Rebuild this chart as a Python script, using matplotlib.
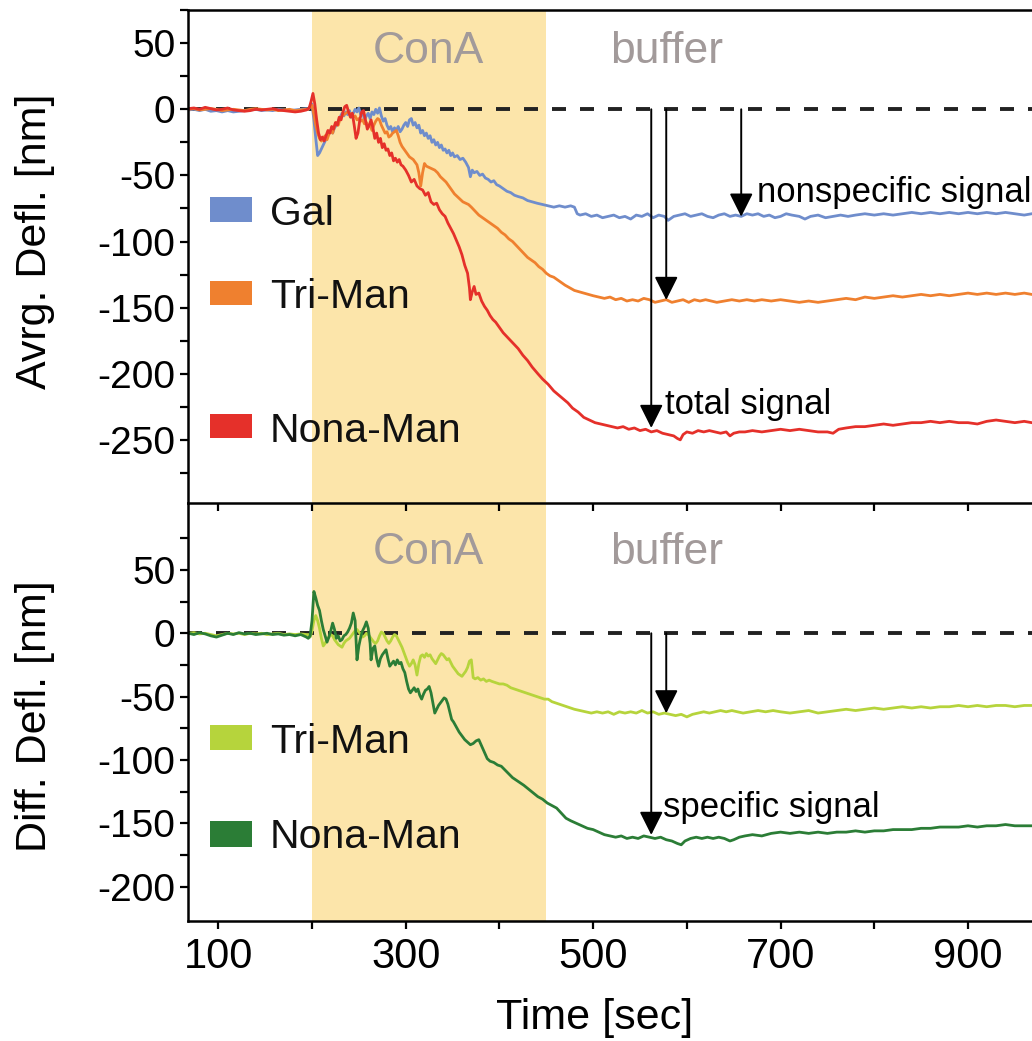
"""
Two-panel deflection traces: averaged deflection (top) and differential
deflection (bottom) during ConA injection and buffer rinse.
"""

import numpy as np
import matplotlib
matplotlib.use("Agg")
import matplotlib.pyplot as plt
from matplotlib.patches import Rectangle

plt.rcParams["font.family"] = ["Liberation Sans", "DejaVu Sans"]
plt.rcParams["axes.unicode_minus"] = False

# ── data (time [s], deflection [nm]) ───────────────────────────────────────
CONA_START, CONA_END = 200, 450

GAL = [(68, -0.5), (74, 0), (80, -1), (86, 0), (92, -1.5), (98, -1), (104, -2), (110, -1),
       (116, -2), (122, -1.5), (128, -1), (134, -0.5), (140, 0), (146, -1), (152, -0.5),
       (158, -1), (164, 0), (170, -0.5), (176, -1), (182, -0.5), (188, 0), (194, 0.5),
       (196, 0), (198, 2), (200, 4), (202, -8), (204, -22), (206, -35), (208, -33), (210, -30),
       (212, -27), (214, -24), (216, -20), (218, -17), (220, -16), (222, -18), (224, -14),
       (226, -12), (228, -9), (230, -6), (232, -3), (234, -5), (236, -2), (238, -4), (240, -1),
       (242, -6), (244, -3), (246, 0), (248, -2), (250, 1), (252, -4), (254, -2), (256, -8),
       (258, -5), (260, -3), (262, -7), (264, -2), (266, -4), (268, 0), (270, -3), (272, 1),
       (274, -5), (276, -9), (278, -7), (280, -12), (282, -15), (284, -13), (286, -17),
       (288, -14), (290, -16), (292, -13), (294, -17), (296, -15), (298, -12), (300, -10),
       (302, -13), (304, -8), (306, -7), (308, -12), (310, -10), (312, -14), (314, -12),
       (316, -18), (318, -16), (320, -20), (322, -18), (324, -22), (326, -20), (328, -25),
       (330, -23), (332, -27), (334, -25), (336, -29), (338, -27), (340, -31), (342, -30),
       (344, -33), (346, -31), (348, -35), (350, -33), (352, -36), (355, -35), (358, -38),
       (361, -37), (364, -40), (367, -44), (369, -51), (371, -46), (373, -48), (376, -47),
       (379, -50), (382, -49), (385, -52), (388, -53), (391, -55), (394, -54), (397, -57),
       (400, -58), (404, -60), (408, -62), (412, -63), (416, -65), (420, -66), (425, -67),
       (430, -69), (435, -70), (440, -71), (446, -72), (452, -73), (458, -74), (464, -73),
       (470, -74), (476, -73), (480, -74), (483, -79), (486, -80), (492, -79), (498, -81),
       (504, -80), (510, -82), (516, -81), (522, -80), (528, -82), (534, -81), (540, -83),
       (546, -80), (552, -81), (558, -79), (564, -82), (570, -80), (576, -81), (580, -84),
       (586, -81), (592, -80), (598, -79), (604, -81), (610, -80), (616, -79), (622, -81),
       (628, -82), (634, -80), (640, -79), (646, -81), (652, -80), (658, -81), (664, -79),
       (670, -80), (676, -79), (682, -81), (688, -80), (694, -82), (700, -81), (706, -79),
       (712, -80), (720, -81), (726, -83), (732, -81), (740, -80), (748, -82), (756, -81),
       (764, -80), (772, -81), (780, -80), (790, -79), (800, -80), (810, -79), (820, -80),
       (830, -79), (840, -78), (850, -79), (860, -78), (870, -79), (880, -78), (890, -79),
       (900, -78), (910, -79), (920, -78), (930, -79), (940, -78), (950, -79), (960, -80),
       (968, -79)]

TRI = [(68, 0), (74, 0.5), (80, -0.5), (86, 0), (92, 0.5), (98, 0), (104, -1), (110, -0.5),
       (116, 0), (122, -0.5), (128, -1), (134, 0), (140, 0.5), (146, 0), (152, -0.5), (158, 0),
       (164, -1), (170, -0.5), (176, 0), (182, -1), (188, -0.5), (194, 0),
       (196, 0), (198, 2), (200, 3), (202, -4), (204, -12), (206, -18), (208, -22), (210, -24),
       (212, -22), (214, -20), (216, -23), (218, -19), (220, -16), (222, -18), (224, -13),
       (226, -10), (228, -12), (230, -7), (232, -5), (234, -4), (236, -3), (238, -2), (240, -3),
       (242, -4), (244, -6), (246, -5), (248, -8), (250, -7), (252, -9), (254, -8), (256, -11),
       (258, -10), (260, -13), (262, -12), (264, -16), (266, -12), (268, -9), (270, -7),
       (272, -8), (274, -12), (276, -15), (278, -18), (280, -17), (282, -21), (284, -20),
       (286, -18), (288, -17), (290, -16), (292, -20), (294, -25), (296, -28), (298, -30),
       (300, -32), (302, -34), (304, -36), (306, -37), (308, -38), (310, -40), (312, -42),
       (314, -48), (316, -58), (318, -48), (320, -41), (322, -43), (325, -44), (328, -45),
       (331, -46), (334, -48), (337, -51), (340, -53), (343, -55), (346, -58), (349, -61),
       (352, -64), (355, -66), (358, -68), (361, -70), (364, -71), (367, -72), (370, -74),
       (374, -77), (378, -80), (382, -82), (386, -84), (390, -86), (394, -88), (398, -90),
       (402, -93), (406, -95), (410, -98), (414, -100), (418, -103), (422, -106), (426, -109),
       (430, -112), (434, -114), (438, -116), (442, -119), (446, -121), (450, -124), (454, -126),
       (458, -127), (462, -129), (466, -131), (470, -133), (475, -135), (480, -137), (485, -138),
       (490, -139), (495, -140), (500, -141), (506, -142), (512, -143), (518, -142), (524, -144),
       (530, -143), (536, -145), (542, -144), (548, -145), (554, -143), (560, -144), (566, -146),
       (572, -145), (578, -144), (584, -146), (590, -145), (596, -144), (602, -146), (608, -144),
       (614, -145), (620, -144), (626, -145), (632, -146), (640, -145), (648, -144), (656, -145),
       (664, -144), (672, -145), (680, -144), (690, -145), (700, -144), (710, -145), (720, -146),
       (730, -145), (740, -146), (750, -145), (760, -144), (770, -143), (780, -144), (790, -142),
       (800, -143), (810, -142), (820, -141), (830, -142), (840, -141), (850, -140), (860, -141),
       (870, -140), (880, -141), (890, -140), (900, -139), (910, -140), (920, -139), (930, -140),
       (940, -139), (950, -140), (960, -139), (968, -140)]

NONA = [(68, 0.5), (74, 1), (80, 0), (86, 1.5), (92, 0.5), (98, -0.5), (104, 0), (110, 1),
        (116, -0.5), (122, -1), (128, -1.5), (134, -1), (140, 0), (146, -0.5), (152, 0),
        (158, 0.5), (164, -0.5), (170, -1), (176, -1.5), (182, -2), (188, -1.5), (194, -0.5),
        (197, 1), (199, 6), (201, 12), (203, 4), (205, -8), (207, -18), (209, -23), (211, -21),
        (213, -24), (215, -20), (217, -16), (219, -18), (221, -13), (223, -15), (225, -10),
        (227, -12), (229, -6), (231, -8), (233, -2), (235, 2), (237, 3), (239, -2), (241, -6),
        (243, -3), (245, -12), (247, -22), (249, -18), (251, -8), (253, -2), (255, -1), (257, -8),
        (259, -15), (261, -12), (263, -8), (265, -14), (267, -22), (269, -18), (271, -25),
        (273, -22), (275, -29), (277, -26), (279, -31), (281, -30), (283, -35), (285, -33),
        (287, -39), (289, -37), (291, -40), (293, -38), (295, -42), (297, -43), (300, -46),
        (303, -50), (306, -55), (309, -53), (312, -58), (315, -60), (318, -61), (321, -65),
        (324, -63), (327, -70), (330, -72), (333, -71), (336, -76), (339, -79), (342, -81),
        (345, -86), (348, -90), (351, -94), (354, -99), (357, -104), (360, -110), (363, -118),
        (366, -124), (368, -135), (369, -144), (371, -138), (373, -134), (375, -140), (378, -139),
        (381, -145), (384, -149), (387, -152), (390, -156), (393, -159), (396, -161), (400, -165),
        (404, -169), (408, -172), (412, -175), (416, -178), (420, -181), (425, -186), (430, -190),
        (435, -195), (441, -200), (446, -204), (452, -208), (458, -213), (463, -216), (468, -219),
        (473, -222), (478, -226), (484, -229), (490, -233), (496, -235), (502, -237), (508, -238),
        (514, -239), (520, -240), (526, -241), (532, -240), (538, -242), (544, -241), (550, -243),
        (556, -242), (562, -244), (568, -243), (574, -245), (580, -246), (586, -247), (590, -249),
        (593, -250), (596, -246), (600, -244), (606, -245), (612, -243), (618, -244), (624, -243),
        (630, -244), (636, -245), (642, -244), (646, -247), (650, -245), (656, -244), (662, -244),
        (670, -243), (680, -244), (690, -243), (700, -242), (710, -243), (720, -242), (730, -243),
        (740, -244), (750, -244), (756, -245), (762, -242), (770, -241), (780, -240), (790, -240),
        (800, -239), (810, -238), (820, -239), (830, -238), (840, -237), (850, -237), (860, -236),
        (870, -237), (880, -236), (890, -237), (900, -237), (910, -238), (920, -236), (930, -235),
        (940, -236), (950, -237), (960, -236), (968, -237)]

DIFF_TRI = [(68, 0), (74, 0.5), (80, -0.5), (86, 0), (92, -1), (98, -2), (104, -1), (110, 0),
            (116, -0.5), (122, 0), (128, -1), (134, 0), (140, -0.5), (146, 0), (152, -1),
            (158, -0.5), (164, 0), (170, -1), (176, -0.5), (182, -1), (188, -0.5), (194, -1),
            (196, -1), (198, -3), (200, 2), (202, 10), (204, 14), (206, 10), (208, 4), (210, -4),
            (212, -10), (214, -8), (216, -5), (218, -3), (220, -1), (222, -2), (224, -5), (226, -7),
            (228, -9), (230, -10), (232, -11), (234, -8), (236, -6), (238, -5), (240, -4), (242, -2),
            (244, 0), (246, 2), (248, 3), (250, 1), (252, -1), (254, -3), (256, -2), (258, 0),
            (260, -1), (262, -3), (264, -5), (266, -7), (268, -8), (270, -6), (272, -2), (274, 1),
            (276, 0), (278, -3), (280, -6), (282, -8), (284, -6), (286, -3), (288, -1), (290, -2),
            (292, -5), (294, -8), (296, -11), (298, -15), (300, -19), (302, -23), (304, -26),
            (306, -24), (308, -21), (310, -25), (312, -33), (314, -24), (316, -18), (318, -17),
            (320, -19), (322, -16), (324, -18), (326, -17), (328, -20), (330, -22), (332, -24),
            (334, -21), (336, -18), (338, -16), (340, -17), (342, -19), (344, -21), (346, -20),
            (348, -23), (350, -26), (352, -28), (354, -30), (356, -32), (358, -33), (360, -34),
            (362, -32), (364, -30), (366, -27), (368, -22), (370, -21), (372, -35), (374, -36),
            (377, -35), (380, -37), (383, -36), (386, -38), (389, -37), (392, -38), (396, -39),
            (400, -40), (404, -40), (408, -41), (412, -43), (416, -44), (420, -45), (424, -46),
            (428, -47), (432, -48), (436, -49), (440, -50), (444, -51), (448, -52), (452, -52),
            (456, -54), (460, -55), (464, -56), (468, -57), (472, -58), (476, -59), (480, -60),
            (486, -61), (492, -62), (498, -63), (504, -62), (510, -63), (516, -62), (522, -64),
            (528, -62), (534, -63), (540, -62), (546, -63), (552, -61), (558, -63), (564, -62),
            (570, -64), (576, -63), (582, -64), (588, -65), (594, -64), (600, -66), (606, -64),
            (612, -63), (618, -62), (624, -63), (630, -62), (636, -61), (642, -62), (648, -61),
            (654, -62), (660, -63), (668, -62), (676, -61), (684, -62), (692, -61), (700, -62),
            (710, -63), (720, -62), (730, -61), (740, -63), (750, -62), (760, -61), (770, -60),
            (780, -61), (790, -60), (800, -59), (810, -60), (820, -59), (830, -58), (840, -59),
            (850, -58), (860, -59), (870, -58), (880, -58), (890, -57), (900, -58), (910, -57),
            (920, -58), (930, -57), (940, -57), (950, -58), (960, -57), (968, -57)]

DIFF_NONA = [(68, 0), (74, -1), (80, 0.5), (86, -0.5), (92, -2), (98, -3), (104, -1.5), (110, 0),
             (116, -1), (122, 0.5), (128, -0.5), (134, 0), (140, -1), (146, -0.5), (152, 0),
             (158, -1), (164, -0.5), (170, -1.5), (176, -1), (182, -2), (188, -1), (194, -3),
             (196, -4), (198, -2), (200, 10), (202, 33), (204, 28), (206, 22), (208, 18), (210, 10),
             (212, 3), (214, -2), (216, -7), (218, -3), (220, 2), (222, 8), (224, 3), (226, -4),
             (228, -2), (230, -6), (232, -5), (234, -2), (236, -1), (238, 1), (240, 4), (242, 8),
             (244, 16), (246, 10), (248, -21), (250, -10), (252, -3), (254, 2), (256, 5), (258, 9),
             (260, 4), (262, -8), (263, -21), (265, -12), (267, -10), (269, -20), (271, -26),
             (273, -20), (275, -17), (277, -15), (279, -13), (281, -20), (283, -26), (285, -24),
             (287, -22), (289, -25), (291, -21), (293, -24), (295, -23), (297, -28), (299, -31),
             (301, -38), (303, -44), (305, -47), (307, -45), (309, -43), (311, -46), (313, -44),
             (315, -49), (317, -52), (319, -48), (321, -45), (323, -44), (325, -42), (327, -47),
             (329, -55), (331, -63), (333, -60), (335, -57), (337, -55), (339, -53), (341, -51),
             (343, -52), (345, -56), (347, -62), (349, -68), (351, -70), (354, -74), (357, -78),
             (360, -81), (363, -84), (366, -86), (369, -88), (372, -87), (375, -85), (378, -84),
             (381, -89), (384, -94), (387, -99), (390, -101), (394, -102), (398, -104), (402, -105),
             (406, -108), (410, -111), (414, -114), (418, -116), (422, -118), (426, -120),
             (431, -123), (436, -126), (441, -129), (446, -131), (451, -134), (456, -136),
             (461, -138), (466, -142), (471, -146), (476, -148), (482, -150), (488, -152),
             (494, -154), (500, -155), (506, -157), (512, -159), (518, -160), (524, -161),
             (530, -160), (536, -162), (542, -161), (548, -162), (554, -160), (560, -161),
             (566, -162), (572, -161), (578, -163), (584, -164), (590, -166), (594, -167),
             (598, -164), (604, -162), (610, -161), (616, -162), (622, -161), (628, -162),
             (634, -161), (640, -162), (646, -164), (650, -163), (656, -161), (662, -160),
             (670, -159), (680, -160), (690, -158), (700, -157), (710, -158), (720, -157),
             (730, -158), (740, -157), (750, -158), (760, -157), (770, -157), (780, -156),
             (790, -157), (800, -156), (810, -156), (820, -155), (830, -155), (840, -155),
             (850, -154), (860, -154), (870, -153), (880, -153), (890, -153), (900, -152),
             (910, -153), (920, -152), (930, -152), (940, -151), (950, -152), (960, -152),
             (968, -152)]

# ── colours ────────────────────────────────────────────────────────────────
C_GAL = "#6f8dcc"
C_TRI = "#ef802f"
C_NONA = "#e5302a"
C_DTRI = "#b6d43c"
C_DNONA = "#2b7d36"
C_SHADE = "#fce5aa"
C_GREYTXT = "#a29a9a"
C_DASH = "#222222"

FS_TICK_Y = 28
FS_TICK_X = 30
FS_LABEL = 31
FS_LEG = 29.5
FS_NOTE = 25
FS_PHASE = 32


def unzip(pairs):
    a = np.array(pairs, dtype=float)
    return a[:, 0], a[:, 1]


def style_axis(ax, ylim, major, minor):
    ax.set_xlim(67.7, 968.3)
    ax.set_ylim(*ylim)
    ax.set_yticks(major)
    ax.set_yticks(minor, minor=True)
    ax.set_xticks(np.arange(100, 1000, 100))
    ax.tick_params(axis="both", which="both", direction="out", length=6, width=1.6)
    ax.tick_params(axis="y", labelsize=FS_TICK_Y, pad=3)
    ax.tick_params(axis="x", labelsize=FS_TICK_X, pad=6)
    for s in ax.spines.values():
        s.set_linewidth(1.8)
    ax.spines["right"].set_visible(False)
    ax.axvspan(CONA_START, CONA_END, color=C_SHADE, lw=0, zorder=0)
    ax.axhline(0, color=C_DASH, lw=2.8, dashes=(3.6, 3.6), zorder=1)


def legend_box(ax, y0, y1, ybase, color, label):
    ax.add_patch(Rectangle((91.1, y0), 44.9, y1 - y0, facecolor=color,
                           edgecolor="none", zorder=3))
    ax.text(155.2, ybase, label, fontsize=FS_LEG, ha="left", va="baseline",
            color="#111111", zorder=3)


def arrow(ax, x, y_tip):
    ax.annotate("", xy=(x, y_tip), xytext=(x, 0),
                arrowprops=dict(arrowstyle="-|>,head_length=0.72,head_width=0.36",
                                mutation_scale=20, color="black", lw=1.4,
                                shrinkA=0, shrinkB=0),
                zorder=5)


fig = plt.figure(figsize=(10.32, 10.41), dpi=100)
ax1 = fig.add_axes([0.1822, 0.5165, 0.8178, 0.4739])
ax2 = fig.add_axes([0.1822, 0.1156, 0.8178, 0.4009])
ax1.set_zorder(3)   # keep the shared spine and its ticks above the lower panel

# ── top panel: averaged deflection ─────────────────────────────────────────
style_axis(ax1, (-298.0, 75.1), np.arange(-250, 51, 50), np.arange(-275, 76, 50))
ax1.tick_params(axis="x", labelbottom=False)

for pairs, col in [(GAL, C_GAL), (TRI, C_TRI), (NONA, C_NONA)]:
    t, y = unzip(pairs)
    ax1.plot(t, y, color=col, lw=2.0, zorder=2, solid_joinstyle="round")

legend_box(ax1, -85.2, -66.3, -87.5, C_GAL, "Gal")
legend_box(ax1, -148.0, -129.8, -150.5, C_TRI, "Tri-Man")
legend_box(ax1, -248.6, -230.4, -251.4, C_NONA, "Nona-Man")

ax1.text(323.8, 34.8, "ConA", fontsize=FS_PHASE, color=C_GREYTXT, ha="center", va="baseline")
ax1.text(578.8, 34.8, "buffer", fontsize=FS_PHASE, color=C_GREYTXT, ha="center", va="baseline")

arrow(ax1, 562, -241.0)
arrow(ax1, 578, -144.2)
arrow(ax1, 658, -81.2)
ax1.text(674.5, -69.9, "nonspecific signal", fontsize=FS_NOTE, ha="left", va="baseline",
         clip_on=False)
ax1.text(576.7, -230.4, "total signal", fontsize=FS_NOTE, ha="left", va="baseline")

ax1.set_ylabel("Avrg. Defl. [nm]", fontsize=FS_LABEL, va="center")
ax1.yaxis.set_label_coords(-0.181, 0.532)

# ── bottom panel: differential deflection ──────────────────────────────────
style_axis(ax2, (-226.9, 102.6), np.arange(-200, 51, 50), np.arange(-175, 76, 50))
ax2.spines["top"].set_visible(False)
ax2.set_xticklabels(["100", "", "300", "", "500", "", "700", "", "900"])

for pairs, col in [(DIFF_TRI, C_DTRI), (DIFF_NONA, C_DNONA)]:
    t, y = unzip(pairs)
    ax2.plot(t, y, color=col, lw=2.0, zorder=2, solid_joinstyle="round")

legend_box(ax2, -92.1, -72.4, -94.5, C_DTRI, "Tri-Man")
legend_box(ax2, -168.7, -148.2, -169.5, C_DNONA, "Nona-Man")

ax2.text(323.8, 54.3, "ConA", fontsize=FS_PHASE, color=C_GREYTXT, ha="center", va="baseline")
ax2.text(578.8, 54.3, "buffer", fontsize=FS_PHASE, color=C_GREYTXT, ha="center", va="baseline")

arrow(ax2, 562, -159.2)
arrow(ax2, 578, -63.2)
ax2.text(574.9, -144.8, "specific signal", fontsize=FS_NOTE, ha="left", va="baseline")

ax2.set_ylabel("Diff. Defl. [nm]", fontsize=FS_LABEL, va="center")
ax2.yaxis.set_label_coords(-0.181, 0.490)
ax2.set_xlabel("Time [sec]", fontsize=FS_LABEL, va="center")
ax2.xaxis.set_label_coords(0.482, -0.233)

fig.savefig("out.png", dpi=100, facecolor="white")
plt.close(fig)
